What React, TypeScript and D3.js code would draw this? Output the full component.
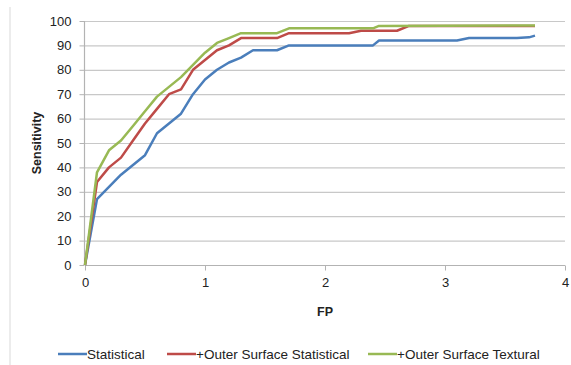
import React, { useRef, useEffect } from 'react';
import * as d3 from 'd3';

// FP / sensitivity pairs
const statistical: [number, number][] = [
  [0, 0], [0.1, 27], [0.2, 32], [0.3, 37], [0.4, 41], [0.5, 45], [0.6, 54], [0.7, 58],
  [0.8, 62], [0.9, 70], [1.0, 76], [1.1, 80], [1.2, 83], [1.3, 85], [1.4, 88], [1.6, 88],
  [1.7, 90], [2.4, 90], [2.45, 92], [3.1, 92], [3.2, 93], [3.6, 93], [3.7, 93.3], [3.75, 94],
];
const outerStatistical: [number, number][] = [
  [0, 0], [0.1, 34], [0.2, 40], [0.3, 44], [0.4, 51], [0.5, 58], [0.6, 64], [0.7, 70],
  [0.8, 72], [0.9, 80], [1.0, 84], [1.1, 88], [1.2, 90], [1.3, 93], [1.6, 93], [1.7, 95],
  [2.2, 95], [2.3, 96], [2.6, 96], [2.7, 98], [3.75, 98],
];
const outerTextural: [number, number][] = [
  [0, 0], [0.1, 38], [0.2, 47], [0.3, 51], [0.4, 57], [0.5, 63], [0.6, 69], [0.7, 73],
  [0.8, 77], [0.9, 82], [1.0, 87], [1.1, 91], [1.2, 93], [1.3, 95], [1.6, 95], [1.7, 97],
  [2.4, 97], [2.45, 98], [3.75, 98.2],
];

const seriesNames = ['Statistical', '+Outer Surface Statistical', '+Outer Surface Textural'];
const seriesColors = ['#4a7ebb', '#be4b48', '#98b954'];
const xTicks = [0, 1, 2, 3, 4];
const yTicks = [0, 10, 20, 30, 40, 50, 60, 70, 80, 90, 100];

const Chart = () => {
  const ref = useRef<SVGSVGElement>(null);

  useEffect(() => {
    const svg = d3.select(ref.current);
    svg.selectAll('*').remove();
    const font = '"Liberation Sans", Arial, sans-serif';

    const x = d3.scaleLinear().domain([0, 4]).range([85, 565]);
    const y = d3.scaleLinear().domain([0, 100]).range([265, 21]);

    // border of the chart area (only left edge visible)
    svg.append('line')
      .attr('x1', 10).attr('x2', 10).attr('y1', 7).attr('y2', 365)
      .style('stroke', '#d9d9d9');

    // gridlines
    svg.append('g')
      .selectAll('line')
      .data(yTicks.filter(d => d > 0))
      .join('line')
      .attr('x1', x(0)).attr('x2', x(4))
      .attr('y1', d => y(d) + 0.5).attr('y2', d => y(d) + 0.5)
      .style('stroke', '#c8c8c8')
      .style('stroke-width', 1.2);

    // axes
    const gx = svg.append('g')
      .attr('transform', `translate(0,${y(0) + 0.5})`)
      .call(d3.axisBottom(x).tickValues(xTicks).tickSize(5).tickPadding(7).tickFormat(d3.format('d')));
    const gy = svg.append('g')
      .attr('transform', `translate(${x(0) - 0.5},0)`)
      .call(d3.axisLeft(y).tickValues(yTicks).tickSize(5).tickPadding(8));

    [gx, gy].forEach(g => {
      g.select('.domain').style('stroke', '#b3b3b3').style('stroke-width', 1.2);
      g.selectAll('.tick line').style('stroke', '#b3b3b3');
      g.selectAll('.tick text')
        .style('font-family', font)
        .style('font-size', '13px')
        .style('fill', '#222');
    });
    gx.select('.domain').attr('d', `M${x(0)},0H${x(4)}`);
    gy.select('.domain').attr('d', `M0,${y(0)}V${y(100)}`);

    // axis titles
    svg.append('text')
      .attr('x', 325).attr('y', 316)
      .attr('text-anchor', 'middle')
      .style('font-family', font).style('font-size', '12.5px').style('font-weight', 'bold')
      .style('fill', '#222')
      .text('FP');
    svg.append('text')
      .attr('transform', 'translate(41,143) rotate(-90)')
      .attr('text-anchor', 'middle')
      .style('font-family', font).style('font-size', '12.5px').style('font-weight', 'bold')
      .style('fill', '#222')
      .text('Sensitivity');

    // series
    const line = d3.line<[number, number]>()
      .x(d => x(d[0]))
      .y(d => y(d[1]));

    [statistical, outerStatistical, outerTextural].forEach((data, i) => {
      svg.append('path')
        .datum(data)
        .attr('d', line)
        .style('fill', 'none')
        .style('stroke', seriesColors[i])
        .style('stroke-width', 2.5)
        .style('stroke-linejoin', 'round');
    });

    // legend
    const legendX = [58, 167, 368];
    const legend = svg.append('g');
    seriesNames.forEach((name, i) => {
      legend.append('line')
        .attr('x1', legendX[i]).attr('x2', legendX[i] + 29)
        .attr('y1', 354).attr('y2', 354)
        .style('stroke', seriesColors[i])
        .style('stroke-width', 2.5);
      legend.append('text')
        .attr('x', legendX[i] + 29).attr('y', 358.5)
        .style('font-family', font).style('font-size', '13.5px')
        .style('fill', '#222')
        .text(name);
    });
  }, []);

  return <svg ref={ref} width={571} height={365} style={{ position: 'absolute', left: 0, top: 0, background: '#fff' }} />;
};

export default function App() {
  return <Chart />;
}
